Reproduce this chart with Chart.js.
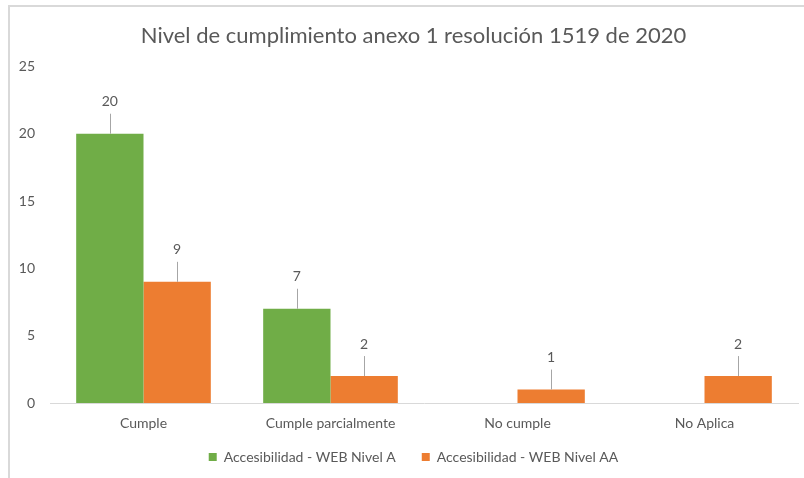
<!DOCTYPE html>
<html>
<head>
<meta charset="utf-8">
<script src="https://cdn.jsdelivr.net/npm/chart.js@4"></script>
<style>
  body { margin: 0; background: #fff; overflow: hidden; }
  #frame { position: absolute; left: 8px; top: 5px; width: 820px; height: 500px;
           border-left: 2px solid #d9d9d9; border-top: 2px solid #d9d9d9; }
  #wrap { position: absolute; left: 0; top: 0; width: 827px; height: 478px; }
</style>
</head>
<body>
<div id="frame"></div>
<div id="wrap"><canvas id="myBarChart"></canvas></div>
<script>
const categories = ["Cumple", "Cumple parcialmente", "No cumple", "No Aplica"];
const nivelA = [20, 7, null, null];
const nivelAA = [9, 2, 1, 2];
const seriesNames = ["Accesibilidad - WEB Nivel A", "Accesibilidad - WEB Nivel AA"];
const yTicks = [0, 5, 10, 15, 20, 25];

const txtColor = "#595959";
const fontName = "Lato, 'Liberation Sans', sans-serif";

//labels above the bars with a little gray leader line
const calloutLabels = {
  id: "calloutLabels",
  afterDatasetsDraw(chart) {
    const ctx = chart.ctx;
    ctx.save();
    ctx.font = "14px " + fontName;
    ctx.fillStyle = txtColor;
    ctx.textAlign = "center";
    ctx.textBaseline = "middle";
    chart.data.datasets.forEach((ds, i) => {
      const meta = chart.getDatasetMeta(i);
      meta.data.forEach((bar, j) => {
        const v = ds.data[j];
        if (v === null || v === undefined) return;
        ctx.strokeStyle = "#a6a6a6";
        ctx.lineWidth = 1;
        ctx.beginPath();
        ctx.moveTo(Math.round(bar.x) + 0.5, bar.y);
        ctx.lineTo(Math.round(bar.x) + 0.5, bar.y - 20);
        ctx.stroke();
        ctx.fillText(String(v), bar.x, bar.y - 32);
      });
    });
    ctx.restore();
  },
};

new Chart("myBarChart", {
  type: "bar",
  data: {
    labels: categories,
    datasets: [
      {
        label: seriesNames[0],
        data: nivelA,
        backgroundColor: "#70ad47",
        categoryPercentage: 0.72,
        barPercentage: 1.0,
      },
      {
        label: seriesNames[1],
        data: nivelAA,
        backgroundColor: "#ed7d31",
        categoryPercentage: 0.72,
        barPercentage: 1.0,
      },
    ],
  },
  plugins: [calloutLabels],
  options: {
    animation: false,
    responsive: true,
    maintainAspectRatio: false,
    layout: { padding: { left: 0, right: 0, top: 0, bottom: 4 } },
    plugins: {
      title: {
        display: true,
        text: "Nivel de cumplimiento anexo 1 resolución 1519 de 2020",
        color: txtColor,
        font: { family: fontName, size: 22, weight: "normal" },
        padding: { top: 23, bottom: 17 },
      },
      legend: {
        position: "bottom",
        labels: {
          color: txtColor,
          font: { family: fontName, size: 14 },
          boxWidth: 8,
          boxHeight: 8,
          padding: 26,
        },
      },
      tooltip: { enabled: false },
    },
    scales: {
      x: {
        grid: { display: false, drawTicks: false },
        border: { display: true, color: "#d9d9d9", width: 1 },
        afterFit: (scale) => {
          // keep the legend close, but don't clip the category labels
          scale.height = 21;
          scale._computeLabelArea = () => undefined;
        },
        ticks: {
          color: txtColor,
          font: { family: fontName, size: 14 },
          padding: 12,
        },
      },
      y: {
        min: 0,
        max: 25,
        grid: { display: false, drawTicks: false },
        border: { display: false },
        afterBuildTicks: (scale) => {
          scale.ticks = yTicks.map((v) => ({ value: v }));
        },
        afterFit: (scale) => {
          scale.width = 50;
        },
        ticks: {
          color: txtColor,
          font: { family: fontName, size: 14 },
          padding: 15,
        },
      },
      //empty right axis, only to leave room so title & legend stay centred on the frame
      yRight: {
        position: "right",
        grid: { display: false, drawTicks: false },
        border: { display: false },
        ticks: { display: false },
        afterFit: (scale) => {
          scale.width = 29;
        },
      },
    },
  },
});
</script>
</body>
</html>
